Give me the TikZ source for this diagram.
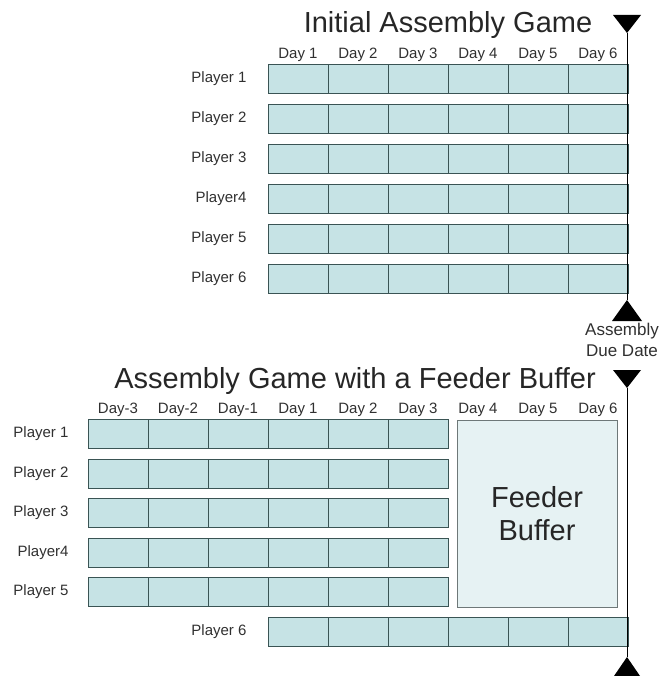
\documentclass[tikz,border=0pt]{standalone}
\usepackage{fontspec}
\setmainfont{Liberation Sans}
\definecolor{cellfill}{HTML}{C6E3E5}
\definecolor{celldraw}{HTML}{3A5454}
\definecolor{bufferfill}{HTML}{E6F2F3}
\definecolor{bufferdraw}{HTML}{6E7878}
\definecolor{labeltext}{HTML}{303030}
\begin{document}
\begin{tikzpicture}
  [x=1pt,y=-1pt,
   cell/.style={rectangle,fill=cellfill,draw=celldraw,line width=0.8pt,minimum width=60pt,minimum height=29pt,inner sep=0pt},
   daylabel/.style={anchor=base,text=labeltext,font=\fontsize{15}{18}\selectfont},
   playerlabel/.style={anchor=east,text=labeltext,font=\fontsize{15}{18}\selectfont},
   gametitle/.style={anchor=base,text=black!85,font=\fontsize{29}{34}\selectfont},
   buffer/.style={rectangle,fill=bufferfill,draw=bufferdraw,line width=0.8pt,minimum width=160pt,minimum height=187pt,align=center,font=\fontsize{29}{33}\selectfont,text=black!85},
   duedate/.style={align=center,text=labeltext,font=\fontsize{17}{21}\selectfont},
   datemark/.style={fill=black}]
  \useasboundingbox (0,0) rectangle (664,676);

  % initial game
  \node[gametitle] (toptitle) at (448,33) {Initial Assembly Game};
  \foreach \c in {1,...,6}
    \node[daylabel] (td\c) at ({298+60*(\c-1)},59) {Day \c};
  \foreach \r/\name in {1/Player 1,2/Player 2,3/Player 3,4/Player4,5/Player 5,6/Player 6} {
    \node[playerlabel] (tp\r) at (250,{79+40*(\r-1)}) {\name};
    \foreach \c in {1,...,6}
      \node[cell] (t\r\c) at ({298+60*(\c-1)},{79+40*(\r-1)}) {};
  }
  \coordinate (topmark) at (627,33);
  \coordinate (duemark) at (627,300);
  \draw[line width=0.8pt] (topmark) -- (duemark);
  \fill[datemark] (topmark) -- ++(-14,-18) -- ++(28,0) -- cycle;
  \fill[datemark] (duemark) -- ++(-15,21) -- ++(30,0) -- cycle;
  \node[duedate] (due) at (622,340) {Assembly\\Due Date};

  % game with feeder buffer
  \node[gametitle] (lowtitle) at (355,388) {Assembly Game with a Feeder Buffer};
  \foreach \c/\day in {1/Day-3,2/Day-2,3/Day-1,4/Day 1,5/Day 2,6/Day 3,7/Day 4,8/Day 5,9/Day 6}
    \node[daylabel] (ld\c) at ({118+60*(\c-1)},413) {\day};
  \foreach \r/\name in {1/Player 1,2/Player 2,3/Player 3,4/Player4,5/Player 5} {
    \node[playerlabel] (lp\r) at (72,{434+39.5*(\r-1)}) {\name};
    \foreach \c in {1,...,6}
      \node[cell] (l\r\c) at ({118+60*(\c-1)},{434+39.5*(\r-1)}) {};
  }
  \node[playerlabel] (lp6) at (250,632) {Player 6};
  \foreach \c in {1,...,6}
    \node[cell] (l6\c) at ({298+60*(\c-1)},632) {};
  \node[buffer] (feeder) at (537,513.5) {Feeder\\Buffer};
  \coordinate (lowmark) at (627,388);
  \coordinate (endmark) at (627,657);
  \draw[line width=0.8pt] (lowmark) -- (endmark);
  \fill[datemark] (lowmark) -- ++(-14,-18) -- ++(28,0) -- cycle;
  \fill[datemark] (endmark) -- ++(-13,19) -- ++(26,0) -- cycle;
\end{tikzpicture}
\end{document}
